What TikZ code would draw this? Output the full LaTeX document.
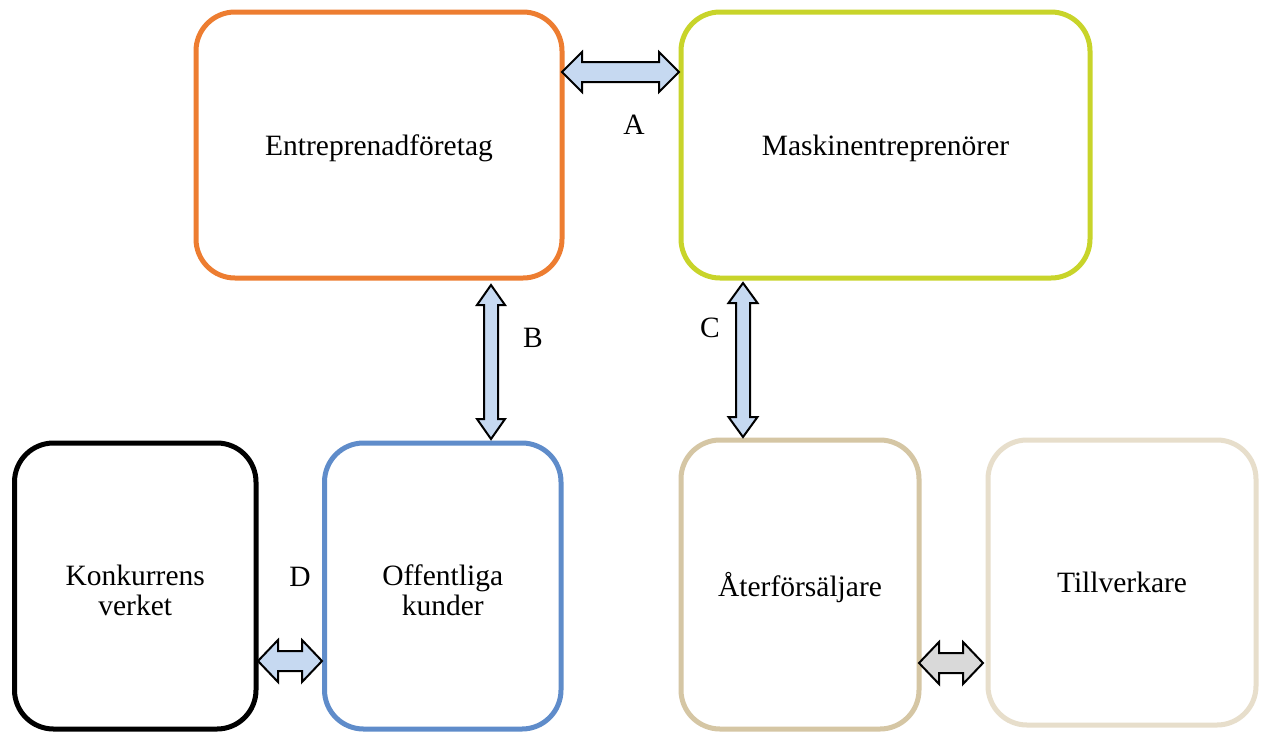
\documentclass[tikz,border=0pt]{standalone}
\usepackage{fontspec}
\setmainfont{Liberation Serif}
\usetikzlibrary{calc}
\definecolor{corange}{HTML}{ED7D31}
\definecolor{clime}{HTML}{C8D42A}
\definecolor{cblue}{HTML}{5F8CCA}
\definecolor{ctan}{HTML}{D5C6A4}
\definecolor{clight}{HTML}{E7DECB}
\definecolor{afill}{HTML}{C6D9F1}
\definecolor{gfill}{HTML}{D9D9D9}
\tikzset{
  box/.style={draw, line width=5pt, rounded corners=39pt, inner sep=0pt},
  lbl/.style={font=\fontsize{29.5}{30}\selectfont, inner sep=0pt, align=center},
  barrow/.style={draw=black, line width=2pt, line join=miter}
}
\newcommand\harr[7]{% x1 x2 yc headhalf shafthalf headlen fill
  \filldraw[barrow, fill=#7] (#1,#3) -- (#1+#6,#3-#4) -- (#1+#6,#3-#5) -- (#2-#6,#3-#5) -- (#2-#6,#3-#4)
    -- (#2,#3) -- (#2-#6,#3+#4) -- (#2-#6,#3+#5) -- (#1+#6,#3+#5) -- (#1+#6,#3+#4) -- cycle;}
\newcommand\varr[7]{% y1 y2 xc headhalf shafthalf headlen fill
  \filldraw[barrow, fill=#7] (#3,#1) -- (#3-#4,#1+#6) -- (#3-#5,#1+#6) -- (#3-#5,#2-#6) -- (#3-#4,#2-#6)
    -- (#3,#2) -- (#3+#4,#2-#6) -- (#3+#5,#2-#6) -- (#3+#5,#1+#6) -- (#3+#4,#1+#6) -- cycle;}
\begin{document}
\begin{tikzpicture}[x=1pt,y=-1pt]
\useasboundingbox[fill=white] (0,0) rectangle (1264,734);
\begin{scope}
\clip (0,0) rectangle (1264,734);
\node[box, draw=corange, minimum width=366pt, minimum height=266pt] (ent) at (379,145) {};
\node[box, draw=clime, minimum width=409pt, minimum height=266pt] (mask) at (885.5,145) {};
\node[box, draw=black, minimum width=241.5pt, minimum height=286pt] (konk) at (135.25,586) {};
\node[box, draw=cblue, minimum width=236.5pt, minimum height=286pt] (off) at (442.75,586) {};
\node[box, draw=ctan, minimum width=238pt, minimum height=289pt] (ater) at (800,584.5) {};
\node[box, draw=clight, minimum width=268pt, minimum height=285pt] (till) at (1122,582.5) {};
\end{scope}
\node[lbl] (tent) at ($(ent)+(0,3)$) {Entreprenadföretag};
\node[lbl] (tmask) at ($(mask)+(0,3)$) {Maskinentreprenörer};
\node[lbl] (tkonk) at ($(konk)+(0,4)$) {Konkurrens\\verket};
\node[lbl] (toff) at ($(off)+(0,4)$) {Offentliga\\kunder};
\node[lbl] (tater) at ($(ater)+(0,3)$) {Återförsäljare};
\node[lbl] (ttill) at ($(till)+(0,0)$) {Tillverkare};
% block arrows between boxes
\harr{562}{679}{72}{20}{10}{20}{afill}
\varr{285}{439}{491}{14}{7}{20}{afill}
\varr{283}{437}{743}{14.5}{7}{20}{afill}
\harr{258}{322}{661}{21}{10}{20}{afill}
\harr{919}{983}{663}{21}{10}{20}{gfill}
\node[lbl] (la) at (634,125) {A};
\node[lbl] (lb) at (533,338) {B};
\node[lbl] (lc) at (710,328) {C};
\node[lbl] (ld) at (300,577) {D};
\end{tikzpicture}
\end{document}
